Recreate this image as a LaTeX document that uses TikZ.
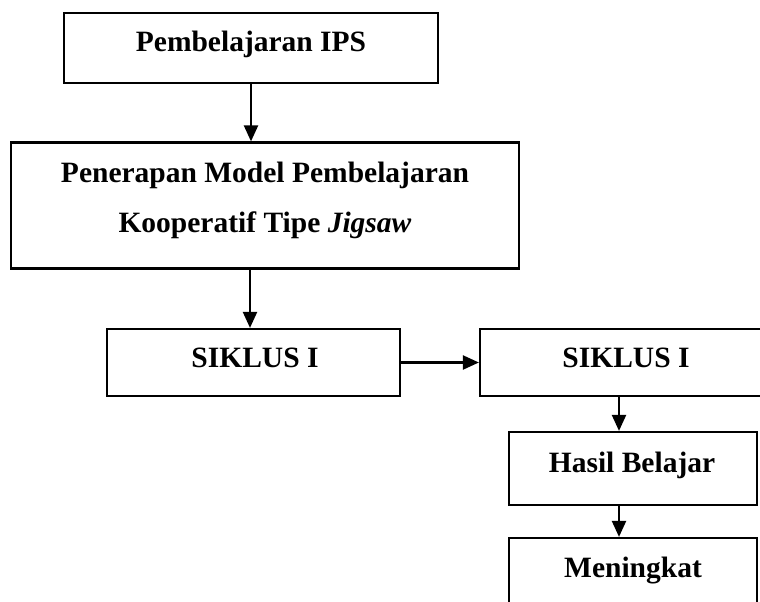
\documentclass[tikz,border=0pt]{standalone}
\usepackage{fontspec}
\setmainfont{Liberation Serif}
\usetikzlibrary{arrows.meta}
\tikzset{
  box/.style={draw=black, line width=2.2pt, rectangle, inner sep=0pt, fill=white},
  txt/.style={anchor=base, inner sep=0pt, font=\fontsize{29.5}{34}\selectfont\bfseries},
  arr/.style={line width=2.2pt, -{Triangle[length=16pt,width=14pt]}}
}
\begin{document}
\begin{tikzpicture}[x=1pt,y=-1pt]
\clip (0,0) rectangle (760,602);
\fill[white] (0,0) rectangle (760,602);
\node[box, minimum width=374pt, minimum height=70pt] (b1) at (251,48) {};
\node[box, minimum width=508pt, minimum height=126pt] (b2) at (265,205.5) {};
\node[box, minimum width=293pt, minimum height=67pt] (b3) at (253.5,362.5) {};
\node[box, minimum width=292pt, minimum height=67pt] (b4) at (626,362.5) {};
\node[box, minimum width=248pt, minimum height=73pt] (b5) at (633,468.5) {};
\node[box, minimum width=248pt, minimum height=73pt] (b6) at (633,574.5) {};
\node[txt] (t1) at (251,52) {Pembelajaran IPS};
\node[txt] (t2a) at (265,182) {Penerapan Model Pembelajaran};
\node[txt] (t2b) at (265,232) {Kooperatif Tipe \textit{Jigsaw}};
\node[txt] (t3) at (255,367) {SIKLUS I};
\node[txt] (t4) at (626,367) {SIKLUS I};
\node[txt] (t5) at (632,472) {Hasil Belajar};
\node[txt] (t6) at (633,577) {Meningkat};
\draw[arr] (b1.south) -- (b1.south |- b2.north);
\draw[arr] ([xshift=-3.5pt]b3.north |- b2.south) -- ([xshift=-3.5pt]b3.north);
\draw[arr] (b3.east) -- (b4.west);
\draw[arr] ([xshift=-14pt]b5.north |- b4.south) -- ([xshift=-14pt]b5.north);
\draw[arr] ([xshift=-14pt]b5.south) -- ([xshift=-14pt]b6.north);
\end{tikzpicture}
\end{document}
